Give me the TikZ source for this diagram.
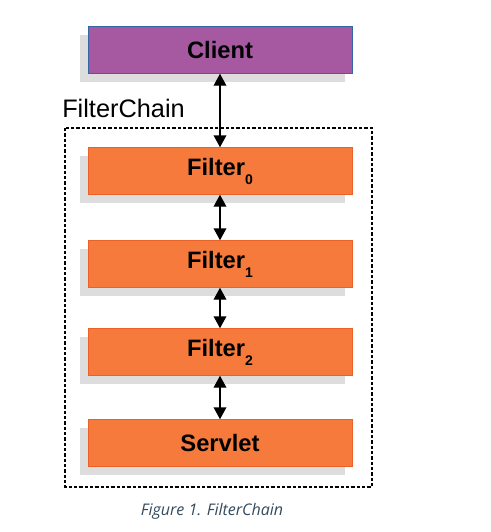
\documentclass[tikz,border=0pt]{standalone}
\usepackage{fontspec}
\setmainfont{Liberation Sans}
\newfontfamily\captionfont{Open Sans}
\usetikzlibrary{arrows.meta}
\definecolor{clientpurple}{RGB}{166,89,160}
\definecolor{clientedge}{RGB}{52,101,164}
\definecolor{filterorange}{RGB}{245,122,60}
\definecolor{filteredge}{RGB}{232,98,42}
\definecolor{shadowgray}{RGB}{221,221,221}
\definecolor{captionblue}{RGB}{52,73,94}
\newcommand{\stage}[5]{\fill[shadowgray] (80,#2-15.5) rectangle (345,#2+32);
  \node[stagebox,fill=#3,draw=#4] (#1) at (220,#2) {#5};}
\newcommand{\lowidx}[1]{\raisebox{-0.38em}{\fontsize{10.5}{12}\selectfont #1}}

\begin{document}
\begin{tikzpicture}[x=0.75pt,y=-0.75pt,
  stagebox/.style={rectangle,minimum width=198pt,minimum height=35pt,inner sep=0pt,line width=0.6pt,font=\fontsize{17.8}{20}\selectfont\bfseries},
  link/.style={{Triangle[length=9pt,width=9.5pt]}-{Triangle[length=9pt,width=9.5pt]},line width=1.1pt}]
  \useasboundingbox (0,0) rectangle (491,532);
  \draw[line width=0.8pt,dash pattern=on 2.5pt off 1.5pt] (65,128) rectangle (372,487);
  \node[anchor=base west,inner sep=0pt,font=\fontsize{19}{22}\selectfont] (chainlabel) at (62,117) {FilterChain};
  \stage{client}{50}{clientpurple}{clientedge}{Client}
  \stage{filter0}{171}{filterorange}{filteredge}{Filter\lowidx{0}}
  \stage{filter1}{264}{filterorange}{filteredge}{Filter\lowidx{1}}
  \stage{filter2}{352}{filterorange}{filteredge}{Filter\lowidx{2}}
  \stage{servlet}{443}{filterorange}{filteredge}{Servlet}
  \draw[link] (client) -- (filter0);
  \draw[link] (filter0) -- (filter1);
  \draw[link] (filter1) -- (filter2);
  \draw[link] (filter2) -- (servlet);
  \node[anchor=base,inner sep=0pt,text=captionblue,font=\captionfont\itshape\fontsize{12}{14}\selectfont] (caption) at (212,515) {Figure 1. FilterChain};
\end{tikzpicture}
\end{document}
